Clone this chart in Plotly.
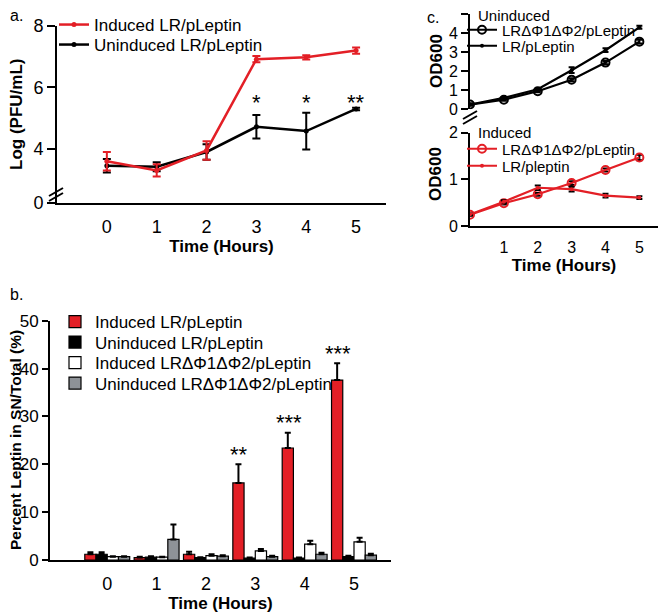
import plotly.graph_objects as go

# ---------------- data ----------------
hours = [0, 1, 2, 3, 4, 5]
hour_labels = ["0", "1", "2", "3", "4", "5"]
boundaries = [-0.5, 0.5, 1.5, 2.5, 3.5, 4.5, 5.5]

# panel a : Log (PFU/mL)
a_induced = [3.6, 3.3, 3.95, 6.92, 6.98, 7.2]
a_induced_err = [0.3, 0.2, 0.3, 0.1, 0.07, 0.1]
a_uninduced = [3.45, 3.42, 3.9, 4.72, 4.58, 5.3]
a_uninduced_err = [0.22, 0.15, 0.25, 0.38, 0.6, 0.04]
a_stars = ["", "", "", "*", "*", "**"]

# panel b : Percent Leptin in SN/Total (%)
b_ind_lr = [1.2, 0.5, 1.2, 16.1, 23.4, 37.6]
b_ind_lr_err = [0.4, 0.2, 0.5, 3.9, 3.2, 3.5]
b_unind_lr = [1.2, 0.6, 0.5, 0.4, 0.4, 0.7]
b_unind_lr_err = [0.4, 0.2, 0.1, 0.1, 0.1, 0.2]
b_ind_d = [0.7, 0.6, 0.9, 1.9, 3.3, 3.8]
b_ind_d_err = [0.1, 0.1, 0.3, 0.4, 0.7, 0.85]
b_unind_d = [0.7, 4.3, 0.8, 0.7, 1.2, 1.0]
b_unind_d_err = [0.1, 3.1, 0.2, 0.2, 0.3, 0.3]
b_stars = ["", "", "", "**", "***", "***"]

# panel c : OD600
c_unind_d = [0.25, 0.5, 0.95, 1.55, 2.45, 3.55]
c_unind_d_err = [0.05, 0.05, 0.05, 0.08, 0.08, 0.1]
c_unind_lr = [0.25, 0.6, 1.05, 2.05, 3.1, 4.3]
c_unind_lr_err = [0.05, 0.05, 0.05, 0.15, 0.1, 0.08]
c_ind_d = [0.24, 0.49, 0.68, 0.92, 1.2, 1.47]
c_ind_d_err = [0.02, 0.03, 0.03, 0.04, 0.03, 0.06]
c_ind_lr = [0.25, 0.52, 0.82, 0.79, 0.65, 0.61]
c_ind_lr_err = [0.02, 0.03, 0.05, 0.05, 0.04, 0.03]

# ---------------- style ----------------
W, H = 666, 613
OFF = 8  # page body margin
RED = "#e31f26"
GREY = "#8e9297"
FONT = "Liberation Sans, Arial, sans-serif"


def px(x):
    return min(1.0, max(0.0, (x - OFF) / W))


def py(y):
    return min(1.0, max(0.0, 1 - (y - OFF) / H))


fig = go.Figure()
legends = {}


def add_legend(key, x, y, size):
    legends[key] = dict(bgcolor="rgba(0,0,0,0)", font=dict(family=FONT, size=size, color="black"),
                        xanchor="left", yanchor="middle", x=px(x), y=py(y))


# ---------- panel a ----------
fig.add_trace(go.Scatter(
    x=hours, y=a_uninduced, name="Uninduced LR/pLeptin", mode="lines+markers",
    line=dict(color="black", width=2.5), marker=dict(size=5, color="black"),
    error_y=dict(type="data", array=a_uninduced_err, color="black", thickness=2, width=4),
    xaxis="x", yaxis="y", legend="legend2"))
fig.add_trace(go.Scatter(
    x=hours, y=a_induced, name="Induced LR/pLeptin", mode="lines+markers",
    line=dict(color=RED, width=2.5), marker=dict(size=5, color=RED),
    error_y=dict(type="data", array=a_induced_err, color=RED, thickness=2, width=4),
    xaxis="x", yaxis="y", legend="legend"))
add_legend("legend", 54, 25, 17)
add_legend("legend2", 54, 45, 17)

# ---------- panel b ----------
bar_series = [
    ("Induced LR/pLeptin", b_ind_lr, b_ind_lr_err, RED),
    ("Uninduced LR/pLeptin", b_unind_lr, b_unind_lr_err, "black"),
    ("Induced LRΔΦ1ΔΦ2/pLeptin", b_ind_d, b_ind_d_err, "white"),
    ("Uninduced LRΔΦ1ΔΦ2/pLeptin", b_unind_d, b_unind_d_err, GREY),
]
b_rows = [322, 342.5, 363, 383.5]
for i, (name, vals, errs, col) in enumerate(bar_series):
    key = "legend%d" % (3 + i)
    fig.add_trace(go.Bar(
        x=hours, y=vals, name=name,
        marker=dict(color=col, line=dict(color="black", width=1.2)),
        error_y=dict(type="data", array=errs, arrayminus=[0] * len(errs), symmetric=False,
                     color="black", thickness=2, width=3),
        xaxis="x2", yaxis="y2", legend=key))
    add_legend(key, 55, b_rows[i], 17)

# ---------- panel c (upper: uninduced) ----------
fig.add_trace(go.Scatter(
    x=hours, y=c_unind_d, name="LRΔΦ1ΔΦ2/pLeptin", mode="lines+markers",
    line=dict(color="black", width=2.2),
    marker=dict(size=8, symbol="circle-open", color="black", line=dict(width=2)),
    error_y=dict(type="data", array=c_unind_d_err, color="black", thickness=2, width=3),
    xaxis="x4", yaxis="y4", legend="legend7"))
fig.add_trace(go.Scatter(
    x=hours, y=c_unind_lr, name="LR/pLeptin", mode="lines+markers",
    line=dict(color="black", width=2.2), marker=dict(size=4, color="black"),
    error_y=dict(type="data", array=c_unind_lr_err, color="black", thickness=2, width=3),
    xaxis="x4", yaxis="y4", legend="legend8"))
add_legend("legend7", 462, 30, 15)
add_legend("legend8", 462, 46, 15)

# ---------- panel c (lower: induced) ----------
fig.add_trace(go.Scatter(
    x=hours, y=c_ind_d, name="LRΔΦ1ΔΦ2/pLeptin", mode="lines+markers",
    line=dict(color=RED, width=2.2),
    marker=dict(size=8, symbol="circle-open", color=RED, line=dict(width=2)),
    error_y=dict(type="data", array=c_ind_d_err, color="black", thickness=2, width=3),
    xaxis="x3", yaxis="y3", legend="legend9"))
fig.add_trace(go.Scatter(
    x=hours, y=c_ind_lr, name="LR/pleptin", mode="lines+markers",
    line=dict(color=RED, width=2.2), marker=dict(size=4, color=RED),
    error_y=dict(type="data", array=c_ind_lr_err, color="black", thickness=2, width=3),
    xaxis="x3", yaxis="y3", legend="legend10"))
add_legend("legend9", 462, 149, 15)
add_legend("legend10", 462, 166, 15)

# ---------------- axes ----------------
TICKF = dict(family=FONT, size=18, color="black")
TICKB = dict(family=FONT, size=17, color="black")
TICKC = dict(family=FONT, size=16, color="black")
axis_common = dict(showline=True, linecolor="black", linewidth=2, showgrid=False, zeroline=False,
                   tickfont=TICKF, ticklen=8, tickwidth=2, tickcolor="black")
title_font = dict(family=FONT, size=17, color="black")


def xaxis_def(domain, rng, anchor, labels, title, tickfont=TICKF, standoff=3):
    d = dict(axis_common)
    d.update(domain=domain, range=rng, anchor=anchor, tickmode="array", tickvals=hours,
             ticktext=labels, ticks="outside", tickcolor="rgba(0,0,0,0)", ticklen=6,
             tickfont=tickfont,
             title=dict(text=title, font=title_font, standoff=standoff))
    return d


def tick_overlay(over, anchor, rng, vals, side, length):
    return dict(overlaying=over, anchor=anchor, range=rng, side=side, tickmode="array",
                tickvals=vals, ticks="outside", ticklen=length, tickwidth=2, tickcolor="black",
                showticklabels=False, showline=False, showgrid=False, zeroline=False)


a_break_val = 2.24
xa_rng = [-1, 5.6]
xb_rng = [-1.16, 5.75]
xc_rng = [0, 5.55]
fig.update_layout(
    xaxis=xaxis_def([px(57), px(386)], xa_rng, "y", hour_labels, "<b>Time (Hours)</b>"),
    yaxis=dict(axis_common, domain=[py(203), py(26)], range=[a_break_val, 8], anchor="x",
               tickmode="array", tickvals=[a_break_val, 4, 6, 8], ticktext=["0", "4", "6", "8"],
               ticks="outside"),
    xaxis2=xaxis_def([px(50), px(391)], xb_rng, "y2", hour_labels, "<b>Time (Hours)</b>"),
    yaxis2=dict(axis_common, domain=[py(560), py(320.7)], range=[0, 50], anchor="x2",
                tickmode="array", tickvals=[0, 10, 20, 30, 40, 50], ticks="outside",
                ticklen=6, tickfont=TICKB),
    xaxis3=xaxis_def([px(470), px(658)], xc_rng, "y3", [""] + hour_labels[1:],
                     "<b>Time (Hours)</b>", tickfont=TICKC, standoff=2),
    yaxis3=dict(axis_common, domain=[py(226), py(132.7)], range=[0, 2], anchor="x3",
                tickmode="array", tickvals=[0, 1, 2], ticks="outside", tickfont=TICKC, ticklen=7),
    xaxis4=dict(domain=[px(470), px(658)], range=xc_rng, anchor="y4", visible=False),
    yaxis4=dict(axis_common, domain=[py(109.3), py(14)], range=[0, 5], anchor="x4",
                tickmode="array", tickvals=[0, 1, 2, 3, 4, 5], ticks="outside", tickfont=TICKC,
                ticklen=7),
    # boundary / minor tick overlays
    xaxis5=tick_overlay("x", "y", xa_rng, boundaries, "bottom", 10),
    xaxis6=tick_overlay("x2", "y2", xb_rng, boundaries, "bottom", 10),
    xaxis7=tick_overlay("x3", "y3", xc_rng, boundaries, "bottom", 10),
    yaxis5=tick_overlay("y2", "x2", [0, 50], [5, 15, 25, 35, 45], "left", 4),
    yaxis6=tick_overlay("y3", "x3", [0, 2], [0.5, 1.5], "left", 5),
)

fig.update_layout(
    barmode="group", bargap=0.09, bargroupgap=0,
    width=W, height=H, autosize=False,
    margin=dict(l=0, r=0, t=0, b=0, autoexpand=False),
    plot_bgcolor="white", paper_bgcolor="white",
    font=dict(family=FONT, color="black"),
    showlegend=True,
    **legends,
)

# ---------------- annotations ----------------
ann = []
for h, s in zip(hours, a_stars):
    if s:
        ann.append(dict(x=h, y=5.5, xref="x", yref="y", text=s, showarrow=False,
                        font=dict(family=FONT, size=22, color="black"),
                        xanchor="center", yanchor="middle"))
for h, s, v, e in zip(hours, b_stars, b_ind_lr, b_ind_lr_err):
    if s:
        ann.append(dict(x=h, y=v + e - 0.9, xref="x2", yref="y2", text=s, showarrow=False,
                        xshift=-16, font=dict(family=FONT, size=22, color="black"),
                        xanchor="center", yanchor="bottom"))
for txt, x, y, sz in [("a.", 8, 15, 16), ("b.", 8, 294, 16), ("c.", 425, 17, 16),
                      ("Uninduced", 476, 15, 15), ("Induced", 476, 132, 15)]:
    ann.append(dict(x=px(x), y=py(y), xref="paper", yref="paper",
                    text=txt, showarrow=False, xanchor="left", yanchor="middle",
                    font=dict(family=FONT, size=sz, color="black")))
# y-axis titles
for txt, x, y, sz in [("<b>Log (PFU/mL)</b>", 17, 115, 17),
                      ("<b>Percent Leptin in SN/Total (%)</b>", 15, 440, 15.5),
                      ("<b>OD600</b>", 436, 61, 17), ("<b>OD600</b>", 436, 174, 17)]:
    ann.append(dict(x=px(x), y=py(y), xref="paper", yref="paper", text=txt, showarrow=False,
                    textangle=-90, xanchor="center", yanchor="middle",
                    font=dict(family=FONT, size=sz, color="black")))
fig.update_layout(annotations=ann)

# axis-break marks
shapes = []
for (x0, y0, x1, y1) in [(49, 196, 63, 188), (49, 201, 63, 193),
                         (463, 119, 477, 111), (463, 124, 477, 116)]:
    shapes.append(dict(type="line", xref="paper", yref="paper", x0=px(x0), y0=py(y0),
                       x1=px(x1), y1=py(y1), line=dict(color="black", width=2)))
fig.update_layout(shapes=shapes)

fig.write_html("out.html")
